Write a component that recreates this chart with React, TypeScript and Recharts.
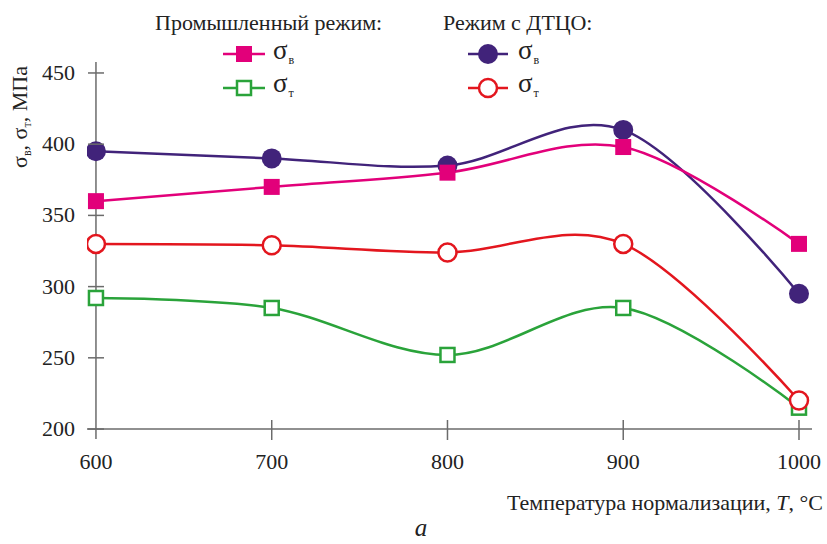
import { useLayoutEffect } from "react";
import { LineChart, Line, XAxis, YAxis, ReferenceLine } from "recharts";

const temps = [600, 700, 800, 900, 1000];
const industrialUts = [360, 370, 380, 398, 330];
const industrialYs = [292, 285, 252, 285, 215];
const dtcoUts = [395, 390, 385, 410, 295];
const dtcoYs = [330, 329, 324, 330, 220];
const yTicks = [200, 250, 300, 350, 400, 450];

const data = temps.map((t, i) => ({
  t,
  indUts: industrialUts[i],
  indYs: industrialYs[i],
  dtcoUts: dtcoUts[i],
  dtcoYs: dtcoYs[i],
}));

const FONT = "Liberation Serif, DejaVu Serif, serif";
const AXIS = "#6b6b6b";
const PINK = "#e2007a";
const GREEN = "#2aa33a";
const PURPLE = "#41237a";
const RED = "#e3161e";

// catmull-rom (cardinal, tension 0) curve for the smoothed lines
function smoothCurve(context: any) {
  const k = 1 / 6;
  let x0 = NaN, x1 = NaN, x2 = NaN, y0 = NaN, y1 = NaN, y2 = NaN;
  let pt = 0;
  const seg = (x: number, y: number) => {
    context.bezierCurveTo(x1 + k * (x2 - x0), y1 + k * (y2 - y0), x2 + k * (x1 - x), y2 + k * (y1 - y), x2, y2);
  };
  return {
    areaStart() {},
    areaEnd() {},
    lineStart() {
      x0 = x1 = x2 = y0 = y1 = y2 = NaN;
      pt = 0;
    },
    lineEnd() {
      if (pt === 2) context.lineTo(x2, y2);
      else if (pt === 3) seg(x1, y1);
    },
    point(x: number, y: number) {
      x = +x;
      y = +y;
      if (pt === 0) {
        pt = 1;
        context.moveTo(x, y);
      } else if (pt === 1) {
        pt = 2;
        x1 = x;
        y1 = y;
      } else {
        pt = 3;
        seg(x, y);
      }
      x0 = x1; x1 = x2; x2 = x;
      y0 = y1; y1 = y2; y2 = y;
    },
  };
}

const FilledSquare = (props: any) => {
  const { cx, cy } = props;
  if (cx == null || cy == null) return null;
  return <rect x={cx - 8} y={cy - 8} width={16} height={16} fill={PINK} />;
};

const OpenSquare = (props: any) => {
  const { cx, cy } = props;
  if (cx == null || cy == null) return null;
  return <rect x={cx - 7} y={cy - 7} width={14} height={14} fill="#fff" stroke={GREEN} strokeWidth={2.5} />;
};

const FilledCircle = (props: any) => {
  const { cx, cy } = props;
  if (cx == null || cy == null) return null;
  return <circle cx={cx} cy={cy} r={10} fill={PURPLE} />;
};

const OpenCircle = (props: any) => {
  const { cx, cy } = props;
  if (cx == null || cy == null) return null;
  return <circle cx={cx} cy={cy} r={9} fill="#fff" stroke={RED} strokeWidth={2.5} />;
};

const XTick = (props: any) => {
  const { x, y, payload } = props;
  return (
    <g>
      {payload.value !== 600 && <line x1={x} x2={x} y1={y - 19} y2={y + 1} stroke={AXIS} strokeWidth={1.5} />}
      <text x={x} y={y + 30} textAnchor="middle" fontFamily={FONT} fontSize={22} fill="#222">
        {payload.value}
      </text>
    </g>
  );
};

const YTick = (props: any) => {
  const { x, y, payload } = props;
  return (
    <g>
      <line x1={x + 1} x2={x + 17} y1={y} y2={y} stroke={AXIS} strokeWidth={1.5} />
      <text x={x - 12} y={y + 7} textAnchor="end" fontFamily={FONT} fontSize={22} fill="#222">
        {payload.value}
      </text>
    </g>
  );
};

function Sigma({ x, y, sub }: { x: number; y: number; sub: string }) {
  return (
    <text x={x} y={y} fontFamily={FONT} fontSize={27} fill="#222">
      σ
      <tspan fontSize={12} dy={5} dx={1}>
        {sub}
      </tspan>
    </text>
  );
}

function Overlay() {
  return (
    <svg width={827} height={544} style={{ position: "absolute", left: 0, top: 0, pointerEvents: "none" }}>
      <text x={155} y={30} fontFamily={FONT} fontSize={22} fill="#222">
        Промышленный режим:
      </text>
      <text x={443} y={30} fontFamily={FONT} fontSize={22} fill="#222">
        Режим с ДТЦО:
      </text>

      <line x1={223} x2={265} y1={54} y2={54} stroke={PINK} strokeWidth={2.5} />
      <FilledSquare cx={244} cy={54} />
      <Sigma x={273} y={59} sub="в" />
      <line x1={223} x2={265} y1={88} y2={88} stroke={GREEN} strokeWidth={2.5} />
      <OpenSquare cx={244} cy={88} />
      <Sigma x={273} y={92} sub="т" />

      <line x1={468} x2={508} y1={54} y2={54} stroke={PURPLE} strokeWidth={2.5} />
      <FilledCircle cx={488} cy={54} />
      <Sigma x={518} y={59} sub="в" />
      <line x1={468} x2={508} y1={88} y2={88} stroke={RED} strokeWidth={2.5} />
      <OpenCircle cx={488} cy={88} />
      <Sigma x={518} y={92} sub="т" />

      <text transform="translate(27,117) rotate(-90)" textAnchor="middle" fontFamily={FONT} fontSize={22} fill="#222">
        σ<tspan fontSize={12} dy={4}>в</tspan>
        <tspan dy={-4}>, σ</tspan>
        <tspan fontSize={12} dy={4}>т</tspan>
        <tspan dy={-4}>, МПа</tspan>
      </text>

      <text x={823} y={510} textAnchor="end" fontFamily={FONT} fontSize={22} fill="#222">
        Температура нормализации, <tspan fontStyle="italic">T</tspan>, °C
      </text>
      <text x={421} y={536} textAnchor="middle" fontFamily={FONT} fontSize={25} fontStyle="italic" fill="#222">
        а
      </text>
    </svg>
  );
}

export default function App() {
  useLayoutEffect(() => {
    document.body.style.margin = "0";
    document.documentElement.style.overflow = "hidden";
  }, []);

  return (
    <div style={{ position: "relative", width: 827, height: 544, overflow: "hidden", background: "#fff" }}>
      <LineChart width={827} height={544} data={data} margin={{ top: 62, right: 15, left: 47, bottom: 75 }}>
        <XAxis
          dataKey="t"
          type="number"
          domain={[594.9, 1007.4]}
          ticks={temps}
          allowDataOverflow
          axisLine={false}
          tickLine={false}
          tickSize={0}
          tickMargin={0}
          height={30}
          tick={<XTick />}
          interval={0}
        />
        <YAxis
          type="number"
          domain={[193, 457.7]}
          ticks={yTicks}
          allowDataOverflow
          axisLine={false}
          tickLine={false}
          tickSize={0}
          tickMargin={0}
          width={40}
          tick={<YTick />}
          interval={0}
        />
        <ReferenceLine y={200} stroke={AXIS} strokeWidth={1.5} />
        <ReferenceLine x={600} stroke={AXIS} strokeWidth={1.5} />
        <Line type={smoothCurve as any} dataKey="indYs" stroke={GREEN} strokeWidth={2.5} dot={<OpenSquare />} activeDot={false} isAnimationActive={false} />
        <Line type={smoothCurve as any} dataKey="dtcoUts" stroke={PURPLE} strokeWidth={2.5} dot={<FilledCircle />} activeDot={false} isAnimationActive={false} />
        <Line type={smoothCurve as any} dataKey="indUts" stroke={PINK} strokeWidth={2.5} dot={<FilledSquare />} activeDot={false} isAnimationActive={false} />
        <Line type={smoothCurve as any} dataKey="dtcoYs" stroke={RED} strokeWidth={2.5} dot={<OpenCircle />} activeDot={false} isAnimationActive={false} />
      </LineChart>
      <Overlay />
    </div>
  );
}
